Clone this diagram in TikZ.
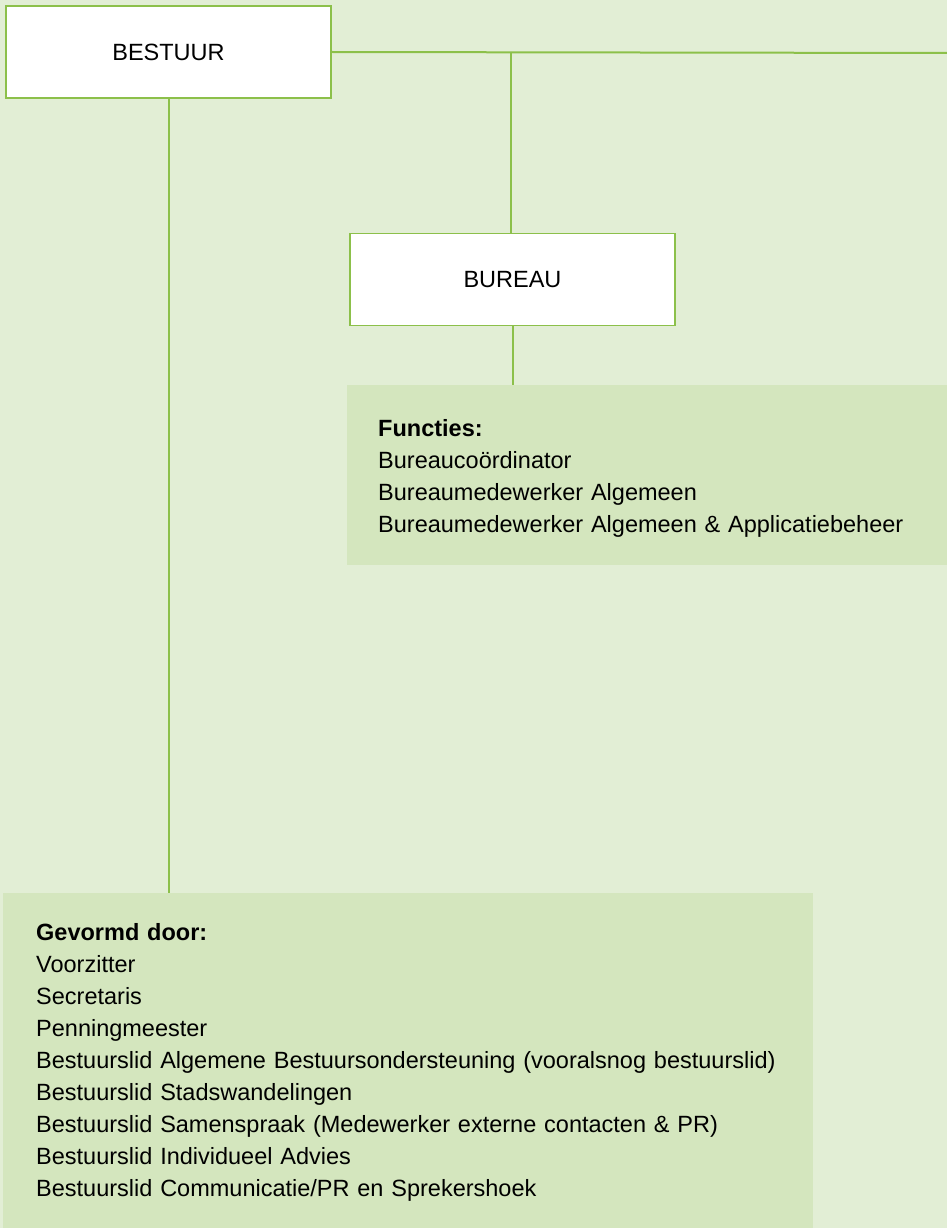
\documentclass[tikz,border=0pt]{standalone}
\usepackage{fontspec}
\setmainfont{Liberation Sans}
\definecolor{bgcol}{HTML}{E2EED5}
\definecolor{boxcol}{HTML}{D4E6BE}
\definecolor{linecol}{HTML}{8CC04A}
\begin{document}
\begin{tikzpicture}[x=1pt,y=-1pt,
  orgbox/.style={draw=linecol, line width=1.6pt, fill=white, minimum width=325pt, minimum height=92pt, inner sep=0pt, font=\fontsize{23.5}{32}\selectfont},
  infobox/.style={fill=boxcol, anchor=north west, align=left, inner ysep=0pt, font=\fontsize{23.5}{32}\selectfont},
  conn/.style={draw=linecol, line width=2pt}]
\fill[bgcol] (0,0) rectangle (947,1228);
\useasboundingbox (0,0) rectangle (947,1228);
\node[orgbox] (bestuur) at (168.5,52) {BESTUUR};
\node[orgbox] (bureau) at (512.5,279.5) {BUREAU};
\node[infobox, minimum width=600pt, minimum height=180pt, inner xsep=31pt, text width=538pt] (functies) at (347,385)
  {\rule{0pt}{23pt}\textbf{Functies:}\\Bureaucoördinator\\Bureaumedewerker Algemeen\\Bureaumedewerker Algemeen \& Applicatiebeheer};
\node[infobox, minimum width=810pt, minimum height=335pt, inner xsep=33pt, text width=744pt] (gevormd) at (3,893)
  {\rule{0pt}{21pt}\textbf{Gevormd door:}\\Voorzitter\\Secretaris\\Penningmeester\\Bestuurslid Algemene Bestuursondersteuning (vooralsnog bestuurslid)\\Bestuurslid Stadswandelingen\\Bestuurslid Samenspraak (Medewerker externe contacten \& PR)\\Bestuurslid Individueel Advies\\Bestuurslid Communicatie/PR en Sprekershoek};
\coordinate (rightend) at (947,53);
\coordinate (junction) at (511,53);
\draw[conn] (bestuur.east) -- (rightend);
\draw[conn] (junction) -- (junction |- bureau.north);
\draw[conn] (bureau.south) -- (bureau.south |- functies.north);
\draw[conn] (bestuur.south) -- (bestuur.south |- gevormd.north);
\end{tikzpicture}
\end{document}
